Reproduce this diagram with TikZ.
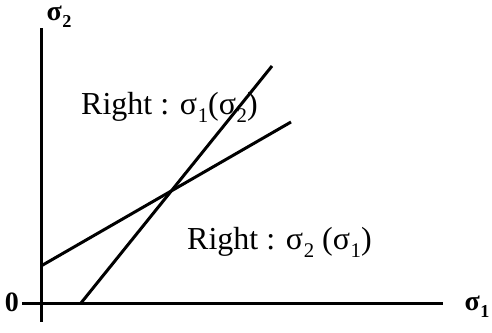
\documentclass[tikz,border=0pt]{standalone}
\usepackage{fontspec}
\setmainfont{Liberation Serif}
\newcommand{\sig}[1]{σ\kern0.02em\raisebox{-0.25em}{\scalebox{0.65}{#1}}}
\begin{document}
\begin{tikzpicture}[x=1pt,y=-1pt,
  ax/.style={line width=3pt},
  ln/.style={line width=3pt},
  lbl/.style={font=\fontsize{32}{34}\selectfont, inner sep=0pt},
  albl/.style={font=\fontsize{28}{30}\selectfont\bfseries, inner sep=0pt}]
\useasboundingbox (0,0) rectangle (492,332);
\coordinate (ytop) at (41,28);
\coordinate (ybot) at (41,322);
\coordinate (xl) at (22,303);
\coordinate (xr) at (443,303);
\coordinate (a1) at (41,266);
\coordinate (a2) at (291,122);
\coordinate (b1) at (81,303);
\coordinate (b2) at (272,66);
\draw[ax] (ytop) -- (ybot);
\draw[ax] (xl) -- (xr);
\draw[ln] (a1) -- (a2);
\draw[ln] (b1) -- (b2);
\node[albl] (s2) at (59,17) {\sig{2}};
\node[albl] (s1) at (477,307) {\sig{1}};
\node[albl] (zero) at (12,302) {0};
\node[lbl,anchor=west] (r1) at (81,107) {Right : \sig{1}(\sig{2})};
\node[lbl,anchor=west] (r2) at (187,242) {Right : \sig{2} (\sig{1})};
\end{tikzpicture}
\end{document}
